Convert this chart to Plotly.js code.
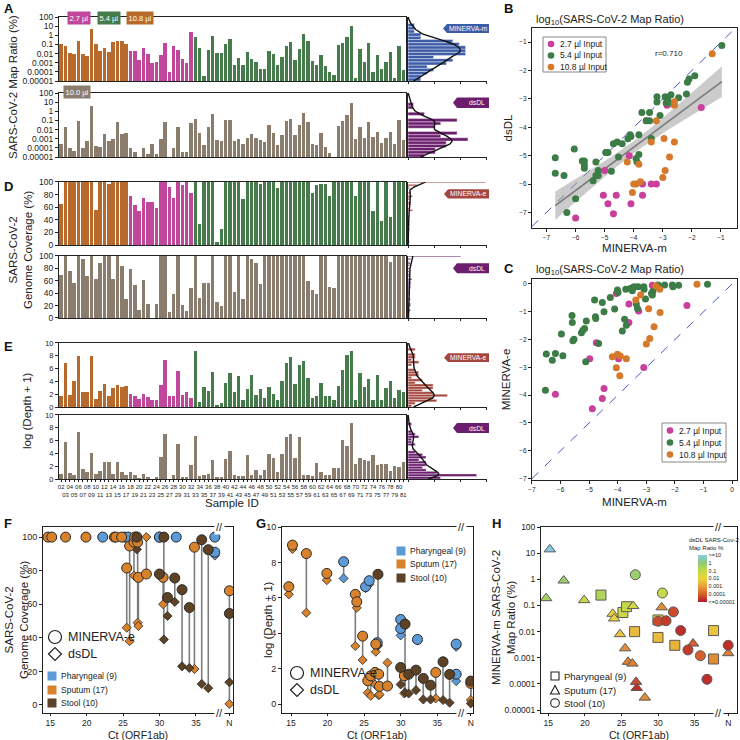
<!DOCTYPE html>
<html><head><meta charset="utf-8">
<script src="https://cdn.plot.ly/plotly-3.0.1.min.js"></script>
<style>html,body{margin:0;padding:0;background:#fff}#chart{width:740px;height:740px}</style>
</head><body><div id="chart"></div>
<script>
const FONT = 'Liberation Sans, Arial, Helvetica, sans-serif';

// ---------------- Panels A, D, E : per-sample data ----------------
const sampleIds = ["02","03","04","05","06","07","08","09","10","11","12","13","14","15","16","17",
 "18","19","20","21","22","23","24","25","26","27","28","29","30","31","32",
 "33","34","35","36","37","38","39","40","41","42","43","44","45","46","47","48","49","50","51","52","53","54","55","56","57","58","59","60","61","62","63","64","65","66","67","68","69","70","71","72","73","74","75","76","77","78","79","80","81"];
const inputGroups = ["10.8 µl", "2.7 µl", "5.4 µl"];
const groupSizes = [16, 15, 49];

// MINERVA-m SARS-CoV-2 map ratio (%)
const mapRatioM = [0.12,0.06,0.012,0.009,0.25,0.01,0.006,5,0.1,0.017,0.04,0.015,0.17,0.25,0.25,0.11,
 0.02,0.02,0.002,0.04,0.008,0.001,0.0013,0.007,0.14,0.0001,0.06,0.027,0.0025,0.0009,2.1,
 0.65,0.04,0.00004,0.027,0.8,0.012,0.013,0.12,0.35,0.0005,0.003,
 0.0006,0.015,0.0027,0.0013,0.0002,0.0002,0.019,0.008,0.0006,0.004,0.063,0.19,0.002,0.035,1.26,0.23,0.0017,0.0005,0.0063,0.0004,0.0001,0.00005,0.08,0.15,0.7,10.7,0.00002,0.035,0.0011,0.13,0.00009,0.0075,0.0002,0.0011,0.015,0.00002,0.063,0.00017];
// dsDL SARS-CoV-2 map ratio (%)
const mapRatioD = [0.0003,0.017,0.0001,0.00005,0.08,0.0001,0.0006,3.9,0.00017,0.00012,0.003,0.0005,0.0009,0.06,0.003,0.004,
 0.0001,0.00004,0.0000089,0.0001,0.00002,0.0003,0.00002,0.001,0.06,0.0000063,0.0001,0.017,0.00004,0.00004,0.05,
 0.15,0.004,0.0002,0.017,0.5,0.0008,0.0006,0.12,0.11,0.0006,0.0009,
 0.0003,0.0011,0.003,0.0013,0.00065,0.00047,0.033,0.0047,0.0002,0.0026,0.078,0.14,0.0026,0.033,0.65,0.065,0.00028,0.0002,0.0039,0.00013,0.00003,0.00001,0.026,0.09,0.39,7.7,0.00085,0.017,0.0013,0.071,0.0017,0.0055,0.00036,0.0013,0.0055,0.00024,0.12,0.00065];
// genome coverage (%)
const coverageE = [65,100,100,100,100,100,100,100,55,100,100,96,100,100,100,100,
 77,64,54,75,68,68,58,100,100,92,75,100,95,100,82,
 100,33,100,100,100,5,25,100,100,100,100,
 73,100,100,100,96,100,100,100,91,100,100,100,100,100,100,100,82,95,96,96,77,100,100,100,100,100,77,100,100,100,54,100,38,100,45,100,100,100];
const coverageD = [69,100,76,57,100,95,67,100,63,88,100,100,63,100,84,31,
 79,53,13,62,23,0,23,100,100,9,39,100,21,12,49,
 100,32,57,56,100,25,19,100,100,42,100,
 31,100,95,88,55,100,100,100,100,100,100,100,100,100,100,60,45,38,100,100,50,48,100,100,100,100,100,100,100,100,100,100,100,100,91,100,100,100];
// log(depth + 1)
const depthE = [1.75,6.8,1.8,4.0,7.9,2.4,2.27,8.0,1.3,2.5,3.56,1.75,3.0,3.5,3.1,3.3,
 2.06,1.75,1.2,2.0,1.55,1.1,1.13,3.45,7.3,1.75,1.65,5.7,1.8,2.37,1.4,
 8.8,0.77,3.2,2.47,5.46,0.36,0.6,3.8,5.36,2.27,4.9,
 1.13,2.8,5.0,1.9,2.8,1.4,3.1,2.0,1.03,4.1,6.8,7.8,3.56,6.5,7.16,4.5,1.4,1.65,3.8,1.75,1.65,1.03,3.35,5.8,8.1,8.8,1.03,5.36,3.1,4.33,1.03,5.0,1.13,2.9,4.0,1.4,2.6,2.27];
const depthD = [0.83,5.8,1.0,0.67,7.3,1.55,1.14,4.04,0.83,1.3,2.6,2.6,0.73,2.7,1.14,0.62,
 1.14,0.62,0.1,0.78,0.3,0,0.26,3.4,7.05,0,0.67,5.44,0.3,0.26,2.18,
 6.74,0.52,0.67,0.78,2.9,0.36,0.36,3.2,4.3,0.67,0.5,
 0.4,3.73,0.67,1.35,0.67,1.45,3.9,3.26,1.04,3.9,6.6,7.05,3.26,6.5,0.67,0.67,0.52,2.5,1.04,0.67,0.62,1.7,1.76,6.1,5.2,8.7,2.33,3.26,3.0,2.85,3.73,2.23,2.38,2.38,1.2,1.97,1.87,2.64];

// ---------------- Panel C : log10 map ratio, MINERVA-m vs MINERVA-e ----------------
const cPinkM = [-6.18,-4.98,-4.89,-4.75,-4.54,-4.48,-4.05,-3.97,-3.61,-3.61,-3.47,-3.27,-3.09,-2.79,-1.58];
const cPinkE = [-3.97,-2.69,-4.49,-2.11,-4.12,-3.76,-0.34,-2.69,-0.72,-1.39,-0.12,-0.97,-3.0,-0.05,-0.77];
const cGreenM = [-6.53,-6.5,-6.29,-6.18,-5.97,-5.92,-5.6,-5.59,-5.57,-5.53,-5.27,-5.22,-5.16,-5.1,-5.12,-4.81,-4.78,-4.77,-4.67,-4.54,-4.48,-4.26,-4.11,-4.01,-3.99,-3.84,-3.76,-3.7,-3.72,-3.56,-3.49,-3.35,-3.31,-3.29,-3.41,-3.09,-3.08,-3.03,-2.82,-2.79,-2.77,-2.59,-2.53,-2.36,-2.09,-2.07,-1.87,-0.86,-2.6];
const cGreenE = [-3.82,-2.52,-2.74,-2.5,-1.8,-2.58,-1.13,-1.39,-2.04,-1.99,-1.75,-1.66,-1.6,-1.33,-2.8,-0.58,-1.18,-1.24,-2.14,-0.67,-1.0,-0.49,-0.9,-0.22,-0.31,-1.69,-1.27,-1.48,-0.19,-0.16,-0.24,-0.72,-0.88,-0.1,-0.1,-0.1,-0.19,-0.54,-0.34,-0.4,-0.25,-0.04,-0.1,-0.04,-0.04,-0.1,-0.05,-0.01,-0.1];
const cOrangeM = [-4.19,-4.05,-4.01,-3.93,-3.91,-3.7,-3.37,-3.2,-3.0,-2.92,-2.88,-2.73,-2.67,-2.53,-2.52,-1.23];
const cOrangeE = [-2.62,-3.01,-2.53,-3.3,-2.59,-2.69,-0.58,-0.4,-2.16,-0.89,-1.96,-1.54,-0.07,-0.19,-1.03,-0.01];

// ---------------- Panels F, G, H : clinical samples ----------------
const sampleTypes = ["Pharyngeal (9)", "Sputum (17)", "Stool (10)"];
const typeOf = ["Pharyngeal (9)","Pharyngeal (9)","Pharyngeal (9)","Pharyngeal (9)","Pharyngeal (9)","Pharyngeal (9)","Pharyngeal (9)","Pharyngeal (9)","Pharyngeal (9)",
 "Sputum (17)","Sputum (17)","Sputum (17)","Sputum (17)","Sputum (17)","Sputum (17)","Sputum (17)","Sputum (17)","Sputum (17)","Sputum (17)","Sputum (17)","Sputum (17)","Sputum (17)","Sputum (17)","Sputum (17)","Sputum (17)","Sputum (17)",
 "Stool (10)","Stool (10)","Stool (10)","Stool (10)","Stool (10)","Stool (10)","Stool (10)","Stool (10)","Stool (10)","Stool (10)"];
const ctValue = [22.2,25.2,25.7,26.8,30.0,30.0,32.3,37.6,37.6,
 14.7,15.2,17.1,19.9,23.8,24.0,24.8,25.5,25.9,26.5,26.6,27.0,27.1,28.2,30.5,34.8,"N",
 26.9,30.0,30.6,31.1,32.1,33.1,34.1,35.8,36.7,"N"];
const covMinervaE = [100,100,100,100,100,100,100,100,91,
 100,100,100,100,100,100,100,81.6,94.7,97,100,97,76,78,76,94,68,
 100,78,100,64,75.6,68.7,58,98.4,92.5,54.5];
const covDsdl = [100,100,100,100,100,100,100,100,89,
 100,100,100,100,100,100,100,46,38,77,100,49,47,100,60,21.4,0.6,
 92.7,77,39,53,61.4,23,22,12.5,10,13.5];
const depMinervaE = [8.04,6.63,6.97,3.47,4.78,4.27,3.65,3.39,1.69,
 6.63,8.98,8.5,7.38,6.2,5.78,3.84,1.32,1.6,1.79,3.39,1.69,1.0,1.02,1.6,1.79,1.17,
 7.33,2.07,4.52,1.69,1.92,1.45,1.07,2.39,1.68,1.3];
const depDsdl = [7.1,6.55,6.76,3.4,4.7,3.88,3.6,3.24,1.3,
 6.2,8.76,5.16,7.0,3.28,5.44,2.49,0.64,0.47,1.11,2.96,0.5,0.55,2.34,0.6,0.32,0.23,
 3.3,1.11,0.66,0.6,0.79,0.26,0.26,0.23,0.08,0.04];
const ratioMinervaM = [0.25,0.054,0.09,0.01,0.028,0.006,0.003,0.011,0.0009,
 0.19,14,0.9,0.16,0.048,0.032,0.008,0.0023,0.0007,0.0006,0.095,0.00012,0.00007,0.00003,0.085,0.0035,0.0015,
 1.5,0.025,0.3,0.026,0.057,0.011,0.002,0.0012,0.00015,0.003];
const ratioDsdl = [0.2,0.05,0.1,0.003,0.01,0.003,0.002,0.005,0.0005,
 0.3,10,0.5,0.05,0.01,0.01,0.005,0.0005,0.0003,0.0003,0.04,0.00005,0.00002,0.0005,0.0005,0.0001,0.0003,
 0.5,0.00005,0.07,0.00003,0.00005,0.00002,0.00003,0.0001,0.00002,0.00002];
const ctTicks = [15,20,25,30,35,"N"];
const N_POS = 39.6;

// ---------------- styles ----------------
const barColor = {"10.8 µl":"#b76a2b","2.7 µl":"#c0479b","5.4 µl":"#467b4c"};
const ptColor = {"10.8 µl":"#d6792a","2.7 µl":"#c93f9b","5.4 µl":"#3c7c46"};
const DS_BAR = "#8b7d6d";
const C_MM = "#3c5ca8", C_ME = "#a5463f", C_DS = "#6b1e6e";
const typeColor = {"Pharyngeal (9)":"#5b9bd8","Sputum (17)":"#d9822c","Stool (10)":"#5e4226"};
const typeSymbol = {"Pharyngeal (9)":"square","Sputum (17)":"triangle-up","Stool (10)":"circle"};

const groupOf = [];
inputGroups.forEach((g,gi)=>{ for(let j=0;j<groupSizes[gi];j++) groupOf.push(g); });
const xi = sampleIds.map((_,i)=>i);
const ctPos = c => (c === "N" ? N_POS : c);

const traces = [];
function groupBars(vals, xa, ya){
  inputGroups.forEach(g=>{
    const ids = xi.filter(i=>groupOf[i]===g);
    traces.push({type:'bar', x:ids, y:ids.map(i=>vals[i]), width:0.8, marker:{color:barColor[g]},
      xaxis:xa, yaxis:ya, showlegend:false, hoverinfo:'skip'});
  });
}
function dsBars(vals, xa, ya){
  traces.push({type:'bar', x:xi, y:vals, width:0.8, marker:{color:DS_BAR}, xaxis:xa, yaxis:ya, showlegend:false, hoverinfo:'skip'});
}
const histMax = {};
function hist(vals, xa, ya, color, bins){
  traces.push({type:'histogram', y:vals, ybins:bins, marker:{color:color, line:{color:'#fff', width:0.4}},
    xaxis:xa, yaxis:ya, showlegend:false, hoverinfo:'skip'});
  // largest bin count (for the axis range) and a Gaussian density curve scaled to counts
  const nb = Math.round((bins.end-bins.start)/bins.size), cnt = new Array(nb).fill(0);
  vals.forEach(v=>{ const k = Math.floor((v-bins.start)/bins.size); if(k>=0 && k<nb) cnt[k]++; });
  histMax[xa] = Math.max(...cnt);
  const n = vals.length, mean = vals.reduce((a,b)=>a+b,0)/n;
  const sd = Math.sqrt(vals.reduce((a,b)=>a+(b-mean)**2,0)/(n-1));
  const s = vals.slice().sort((a,b)=>a-b), q = p => s[Math.floor(p*(n-1))];
  const iqr = q(0.75)-q(0.25);
  const bw = 0.9*Math.min(sd, iqr>0 ? iqr/1.34 : sd)*Math.pow(n,-0.2);
  const ky=[], kx=[];
  for(let k=0;k<=160;k++){
    const y = bins.start + (bins.end-bins.start)*k/160;
    let d=0; vals.forEach(v=>{ d += Math.exp(-0.5*((y-v)/bw)**2); });
    d = d/(n*bw*Math.sqrt(2*Math.PI));
    ky.push(y); kx.push(d*n*bins.size);
  }
  traces.push({type:'scatter', mode:'lines', x:kx, y:ky, line:{color:'#111', width:1.4}, xaxis:xa, yaxis:ya, showlegend:false, hoverinfo:'skip'});
}
const logM = mapRatioM.map(v=>Math.log10(v));
const logD = mapRatioD.map(v=>Math.log10(v));

groupBars(mapRatioM,'x','y');  hist(logM,'x2','y2',C_MM,{start:-5,end:2,size:0.35});
dsBars(mapRatioD,'x3','y3');   hist(logD,'x4','y4',C_DS,{start:-5,end:2,size:0.35});
groupBars(coverageE,'x5','y5'); hist(coverageE,'x6','y6',C_ME,{start:-1.25,end:101.25,size:2.5});
dsBars(coverageD,'x7','y7');   hist(coverageD,'x8','y8',C_DS,{start:-1.25,end:101.25,size:2.5});
groupBars(depthE,'x9','y9');   hist(depthE,'x10','y10',C_ME,{start:0,end:10,size:0.4});
dsBars(depthD,'x11','y11');    hist(depthD,'x12','y12',C_DS,{start:0,end:10,size:0.4});

// ---------------- Panel B (from A data) ----------------
const bX = logM.map(v=>v-2), bY = logD.map(v=>v-2);
(function(){
  const n = bX.length;
  const mx = bX.reduce((a,b)=>a+b,0)/n, my = bY.reduce((a,b)=>a+b,0)/n;
  let sxx=0, sxy=0; for(let i=0;i<n;i++){ sxx+=(bX[i]-mx)**2; sxy+=(bX[i]-mx)*(bY[i]-my); }
  const slope = sxy/sxx, icpt = my - slope*mx;
  let sse=0; for(let i=0;i<n;i++){ sse += (bY[i]-(icpt+slope*bX[i]))**2; }
  const s = Math.sqrt(sse/(n-2)), t = 1.99;
  const lo = Math.min(...bX), hi = Math.max(...bX);
  const gx=[], gy=[], up=[], dn=[];
  for(let k=0;k<=40;k++){ const x = lo + (hi-lo)*k/40; const yh = icpt+slope*x;
    const se = s*Math.sqrt(1/n + (x-mx)**2/sxx); gx.push(x); gy.push(yh); up.push(yh+t*se); dn.push(yh-t*se); }
  traces.push({type:'scatter', mode:'lines', x:gx.concat(gx.slice().reverse()), y:up.concat(dn.slice().reverse()),
    fill:'toself', fillcolor:'rgba(160,160,160,0.55)', line:{width:0}, xaxis:'x13', yaxis:'y13', showlegend:false, hoverinfo:'skip'});
  traces.push({type:'scatter', mode:'lines', x:gx, y:gy, line:{color:'#7a7a7a', width:1.6}, xaxis:'x13', yaxis:'y13', showlegend:false, hoverinfo:'skip'});
})();
const legendOrder = ["2.7 µl","5.4 µl","10.8 µl"];
legendOrder.forEach(g=>{
  const ids = xi.filter(i=>groupOf[i]===g);
  traces.push({type:'scatter', mode:'markers', x:ids.map(i=>bX[i]), y:ids.map(i=>bY[i]), name:g+' Input',
    marker:{color:ptColor[g], size:7}, xaxis:'x13', yaxis:'y13', showlegend:false, hoverinfo:'skip'});
});
// ---------------- Panel C ----------------
[["2.7 µl",cPinkM,cPinkE],["5.4 µl",cGreenM,cGreenE],["10.8 µl",cOrangeM,cOrangeE]].forEach(([g,xm,ye])=>{
  traces.push({type:'scatter', mode:'markers', x:xm, y:ye, name:g+' Input', marker:{color:ptColor[g], size:7},
    xaxis:'x14', yaxis:'y14', showlegend:false, hoverinfo:'skip'});
});

// ---------------- Panels F, G ----------------
function dumbbell(eVals, dVals, xa, ya){
  const lx=[], ly=[];
  typeOf.forEach((t,i)=>{ lx.push(ctPos(ctValue[i]), ctPos(ctValue[i]), null); ly.push(eVals[i], dVals[i], null); });
  traces.push({type:'scatter', mode:'lines', x:lx, y:ly, line:{color:'#7d7d7d', width:1.6}, xaxis:xa, yaxis:ya, showlegend:false, hoverinfo:'skip'});
  sampleTypes.forEach(t=>{
    const ids = typeOf.map((v,i)=>v===t?i:-1).filter(i=>i>=0);
    traces.push({type:'scatter', mode:'markers', x:ids.map(i=>ctPos(ctValue[i])), y:ids.map(i=>dVals[i]),
      marker:{symbol:'diamond', size:7, color:typeColor[t], line:{color:'#2a2a2a', width:0.8}}, xaxis:xa, yaxis:ya, showlegend:false, hoverinfo:'skip'});
  });
  sampleTypes.forEach(t=>{
    const ids = typeOf.map((v,i)=>v===t?i:-1).filter(i=>i>=0);
    traces.push({type:'scatter', mode:'markers', x:ids.map(i=>ctPos(ctValue[i])), y:ids.map(i=>eVals[i]),
      marker:{symbol:'circle', size:10, color:typeColor[t], line:{color:'#2a2a2a', width:1}}, xaxis:xa, yaxis:ya, showlegend:false, hoverinfo:'skip'});
  });
}
dumbbell(covMinervaE, covDsdl, 'x15', 'y15');
dumbbell(depMinervaE, depDsdl, 'x16', 'y16');

// ---------------- Panel H ----------------
const hScale = [[0,'#b2182b'],[1/6,'#d6602b'],[2/6,'#e6a23a'],[3/6,'#ecd43c'],[4/6,'#c3d94a'],[5/6,'#8cc97a'],[1,'#85cbe0']];
sampleTypes.forEach((t,ti)=>{
  const ids = typeOf.map((v,i)=>v===t?i:-1).filter(i=>i>=0);
  traces.push({type:'scatter', mode:'markers', x:ids.map(i=>ctPos(ctValue[i])), y:ids.map(i=>ratioMinervaM[i]),
    marker:{symbol:typeSymbol[t], size:10, color:ids.map(i=>Math.max(-5,Math.min(1,Math.log10(ratioDsdl[i])))),
      colorscale:hScale, cmin:-5, cmax:1, line:{color:'#5a5a5a', width:1}, showscale: ti===0,
      colorbar:{x:0.943, xanchor:'left', xpad:0, ypad:0, y:0.25, yanchor:'top', len:0.064, lenmode:'fraction', thickness:9,
        outlinewidth:0, tickvals:[-5,-4,-3,-2,-1,0,1], ticktext:['<=0.00001','0.0001','0.001','0.01','0.1','1','>=10'],
        tickfont:{size:5.5, family:FONT, color:'#222'}, ticks:'', ticklen:0}},
    xaxis:'x17', yaxis:'y17', showlegend:false, hoverinfo:'skip'});
});

// ---------------- layout ----------------
function ax(o){ return Object.assign({showgrid:false, zeroline:false, showline:true, linecolor:'#222', linewidth:1,
  ticks:'outside', ticklen:3, tickwidth:1, tickcolor:'#222', tickfont:{size:8.5, family:FONT, color:'#222'}}, o); }
const BX=[0.0797,0.548], HX=[0.5514,0.658];
const rowsY = [[0.8905,0.977],[0.7878,0.8743],[0.6689,0.7541],[0.5703,0.6541],[0.45,0.5365],[0.3527,0.4392]];
const logTicks=[1e-5,1e-4,1e-3,1e-2,0.1,1,10,100], logText=['0.00001','0.0001','0.001','0.01','0.1','1','10','100'];
const histFrac = [0.73,0.76,0.98,0.67,0.5,0.87];
const layout = {width:740, height:740, margin:{l:0,r:0,t:0,b:0}, paper_bgcolor:'#fff', plot_bgcolor:'rgba(0,0,0,0)',
  barmode:'overlay', bargap:0, font:{family:FONT, size:9, color:'#222'}, showlegend:false, annotations:[], shapes:[]};
const tickLabels = sampleIds.map((id,i)=> i%2===1 ? '<br>'+id : id);
rowsY.forEach((dom,r)=>{
  const kb = 2*r+1, kh = 2*r+2;
  const nb = kb===1?'':kb;
  let yb;
  if(r<2) yb = {type:'log', range:[-5,2], tickvals:logTicks, ticktext:logText};
  else if(r<4) yb = {range:[0,100], tickvals:[0,20,40,60,80,100]};
  else yb = {range:[0,10], tickvals:[0,2,4,6,8,10], tickfont:{size:7.5, family:FONT, color:'#222'}};
  layout['xaxis'+nb] = ax({domain:BX, range:[-0.5,79.5], anchor:'y'+nb, mirror:true, ticks:'', showticklabels:false});
  if(r===5){ Object.assign(layout['xaxis'+nb], {ticks:'outside', ticklen:2, showticklabels:true, tickvals:xi, ticktext:tickLabels, tickangle:0, tickfont:{size:6, family:FONT, color:'#222'}}); }
  layout['yaxis'+nb] = ax(Object.assign({domain:dom, anchor:'x'+nb, mirror:true}, yb));
  const hyr = r<2 ? [-5,2] : (r<4 ? [0,100] : [0,10]);
  const hr = histMax['x'+kh]/histFrac[r];
  layout['xaxis'+kh] = ax({domain:HX, range:[0,hr], anchor:'y'+kh, showticklabels:false, tickvals:[0,hr/3,2*hr/3,hr*0.999], ticklen:2});
  layout['yaxis'+kh] = ax({domain:dom, range:hyr, anchor:'x'+kh, showticklabels:false, ticks:''});
});
const tFont = {size:11.5, family:FONT, color:'#222'};
const smallTick = {size:6.5, family:FONT, color:'#222'};
layout.xaxis13 = ax({domain:[0.7189,0.9959], range:[-7.5,-0.45], anchor:'y13', mirror:true, dtick:1, tickfont:smallTick, title:{text:'MINERVA-m', font:tFont, standoff:4}});
layout.yaxis13 = ax({domain:[0.6919,0.9622], range:[-7.55,-0.5], anchor:'x13', mirror:true, dtick:1, tickfont:smallTick, title:{text:'dsDL', font:tFont, standoff:4}});
layout.xaxis14 = ax({domain:[0.7189,0.9959], range:[-7,0.17], anchor:'y14', mirror:true, dtick:1, tickfont:smallTick, title:{text:'MINERVA-m', font:tFont, standoff:6}});
layout.yaxis14 = ax({domain:[0.3514,0.623], range:[-7.05,0.18], anchor:'x14', mirror:true, dtick:1, tickfont:smallTick, title:{text:'MINERVA-e', font:tFont, standoff:6}});
const ctAxis = {tickvals:ctTicks.map(ctPos), ticktext:ctTicks.map(String), ticklen:2, tickfont:{size:8.5, family:FONT, color:'#222'}};
layout.xaxis15 = ax(Object.assign({domain:[0.0581,0.3149], range:[14.0,40.1], anchor:'y15', mirror:true}, ctAxis));
layout.yaxis15 = ax({domain:[0.0365,0.2878], range:[-4.8,106], anchor:'x15', mirror:true, tickvals:[0,20,40,60,80,100], tickfont:{size:9,family:FONT,color:'#222'}});
layout.xaxis16 = ax(Object.assign({domain:[0.3811,0.6392], range:[13.77,39.9], anchor:'y16', mirror:true}, ctAxis));
layout.yaxis16 = ax({domain:[0.0365,0.2878], range:[-0.5,10], anchor:'x16', mirror:true, tickvals:[0,2,4,6,8,10], tickfont:{size:9,family:FONT,color:'#222'}});
layout.xaxis17 = ax(Object.assign({domain:[0.7311,0.9959], range:[14.0,40.8], anchor:'y17', mirror:true}, ctAxis));
layout.yaxis17 = ax({domain:[0.0365,0.2878], type:'log', range:[-5.11,2.0], anchor:'x17', mirror:true, tickvals:logTicks, ticktext:logText, tickfont:{size:8.5,family:FONT,color:'#222'}});

// ---------------- annotations & decorations (positions in pixels of the 740x740 figure) ----------------
const PX = p => p/740, PY = p => 1 - p/740;
const A = layout.annotations, S = layout.shapes;
function note(text, px, py, o){ A.push(Object.assign({text:text, x:PX(px), y:PY(py), xref:'paper', yref:'paper', showarrow:false,
  xanchor:'center', yanchor:'middle', font:{size:11.5, family:FONT, color:'#222'}}, o||{})); }
function rect(x0,y0,x1,y1,o){ S.push(Object.assign({type:'rect', xref:'paper', yref:'paper', x0:PX(x0), x1:PX(x1), y0:PY(y1), y1:PY(y0)}, o)); }
function circ(cx,cy,r,o){ S.push(Object.assign({type:'circle', xref:'paper', yref:'paper', x0:PX(cx-r), x1:PX(cx+r), y0:PY(cy+r), y1:PY(cy-r)}, o)); }
function poly(pts,o){ S.push(Object.assign({type:'path', xref:'paper', yref:'paper', path:'M'+pts.map(p=>PX(p[0])+','+PY(p[1])).join('L')+'Z'}, o)); }

[['A',2,9],['B',502,9],['C',502,268],['D',2,186],['E',2,346],['F',2,523],['G',254,523],['H',490,523]]
  .forEach(([t,x,y])=>note('<b>'+t+'</b>', x, y, {xanchor:'left', font:{size:13, family:FONT, color:'#111'}}));
note('log<sub>10</sub>(SARS-CoV-2 Map Ratio)', 534, 20, {xanchor:'left', font:{size:11, family:FONT, color:'#222'}});
note('log<sub>10</sub>(SARS-CoV-2 Map Ratio)', 534, 270, {xanchor:'left', font:{size:11, family:FONT, color:'#222'}});
A.push({text:'r=0.710', x:-3.35, y:-1.4, xref:'x13', yref:'y13', showarrow:false, xanchor:'left', yanchor:'middle', font:{size:8, family:FONT, color:'#222'}});
note('SARS-CoV-2 Map Ratio (%)', 13, 87, {textangle:-90});
note('SARS-CoV-2<br>Genome Coverage (%)', 20, 250, {textangle:-90});
note('log (Depth + 1)', 27, 411, {textangle:-90});
note('Sample ID', 232, 503);
note('SARS-CoV-2<br>Genome Coverage (%)', 16, 620, {textangle:-90});
note('log (Depth + 1)', 268, 620, {textangle:-90});
note('MINERVA-m SARS-CoV-2<br>Map Ratio (%)', 503, 618, {textangle:-90});
note('Ct (ORF1ab)', 138, 734.5, {font:{size:10.5, family:FONT, color:'#222'}});
note('Ct (ORF1ab)', 377, 734.5, {font:{size:10.5, family:FONT, color:'#222'}});
note('Ct (ORF1ab)', 639, 734.5, {font:{size:10.5, family:FONT, color:'#222'}});
// input-volume tags
[['2.7 µl',79,18,'#c0479b'],['5.4 µl',109,18,'#467b4c'],['10.8 µl',140,18,'#b76a2b'],['10.0 µl',77,92,'#8b7d6d']]
 .forEach(([t,x,y,c])=>note(t, x, y, {bgcolor:c, font:{size:7.5, family:FONT, color:'#fff'}, borderpad:1.5}));
// method tags on histograms (pointed labels)
[['MINERVA-m',C_MM,443,24,33],['dsDL',C_DS,453,97.5,108],['MINERVA-e',C_ME,444,189.3,198.5],['dsDL',C_DS,453,263.3,273.3],['MINERVA-e',C_ME,444,353.3,362],['dsDL',C_DS,453,423,433]]
 .forEach(([t,c,x0,y0,y1])=>{
   const ym=(y0+y1)/2;
   poly([[x0,ym],[x0+4,y0],[489,y0],[489,y1],[x0+4,y1]], {fillcolor:c, line:{width:0}});
   note(t, t==='dsDL' ? 487 : (x0+4+489)/2, ym, {xanchor: t==='dsDL' ? 'right' : 'center', font:{size:6.8, family:FONT, color:'#fff'}});
 });
// axis break marks
[['x15','y15'],['x16','y16'],['x17','y17']].forEach(([xa,ya])=>{
  [0,1].forEach(yy=>A.push({text:'//', x:38.3, y:yy, xref:xa, yref:ya+' domain', showarrow:false, xanchor:'center', yanchor:'middle', font:{size:11, family:FONT, color:'#222'}, bgcolor:'#fff'}));
});
// identity lines
S.push({type:'line', xref:'x13', yref:'y13', x0:-7.5, y0:-7.5, x1:-0.5, y1:-0.5, line:{color:'#4a55c8', width:1, dash:'dash'}, layer:'below'});
S.push({type:'line', xref:'x14', yref:'y14', x0:-7, y0:-7, x1:0.17, y1:0.17, line:{color:'#4a55c8', width:1, dash:'dash'}, layer:'below'});

// legend boxes for B and C
function inputLegend(x0, y0, x1, y1, rows){
  rect(x0,y0,x1,y1,{line:{color:'#888', width:1}, fillcolor:'#fff'});
  legendOrder.forEach((g,k)=>{
    circ(x0+8, rows[k], 3.3, {fillcolor:ptColor[g], line:{width:0}});
    note(g+' Input', x0+15, rows[k], {xanchor:'left', font:{size:8.5, family:FONT, color:'#222'}});
  });
}
inputLegend(543, 37, 606, 72, [44, 55.5, 67]);
inputLegend(662, 423, 726, 462, [430.5, 442.5, 454.5]);

// legends of F, G, H
function shapeLegend(x, y1, y2){
  circ(x, y1, 6.5, {line:{color:'#222', width:1.2}});
  poly([[x-6.5,y2],[x,y2-6.5],[x+6.5,y2],[x,y2+6.5]], {line:{color:'#222', width:1.2}});
  note('MINERVA-e', x+11, y1, {xanchor:'left', font:{size:12.5, family:FONT, color:'#222'}});
  note('dsDL', x+11, y2, {xanchor:'left', font:{size:12.5, family:FONT, color:'#222'}});
}
function typeLegend(x, ys){
  sampleTypes.forEach((t,k)=>{
    rect(x-4.5, ys[k]-4.5, x+4.5, ys[k]+4.5, {fillcolor:typeColor[t], line:{width:0}});
    note(t, x+7, ys[k], {xanchor:'left', font:{size:8.5, family:FONT, color:'#222'}});
  });
}
shapeLegend(55, 637, 654);  typeLegend(52, [676, 690, 703]);
shapeLegend(297, 673, 690); typeLegend(401, [551, 564, 578]);
// H shape legend
rect(551, 672, 559, 680, {line:{color:'#222', width:1.1}});
poly([[550.5,694],[555,685.5],[559.5,694]], {line:{color:'#222', width:1.1}});
circ(555, 703, 4.3, {line:{color:'#222', width:1.1}});
sampleTypes.forEach((t,k)=>note(t, 562, [676,690,703][k], {xanchor:'left', font:{size:9.5, family:FONT, color:'#222'}}));
note('dsDL SARS-Cov-2<br>Map Ratio %', 687, 544, {xanchor:'left', align:'left', font:{size:6, family:FONT, color:'#222'}});

Plotly.newPlot('chart', traces, layout, {staticPlot:true, displayModeBar:false});
</script></body></html>
